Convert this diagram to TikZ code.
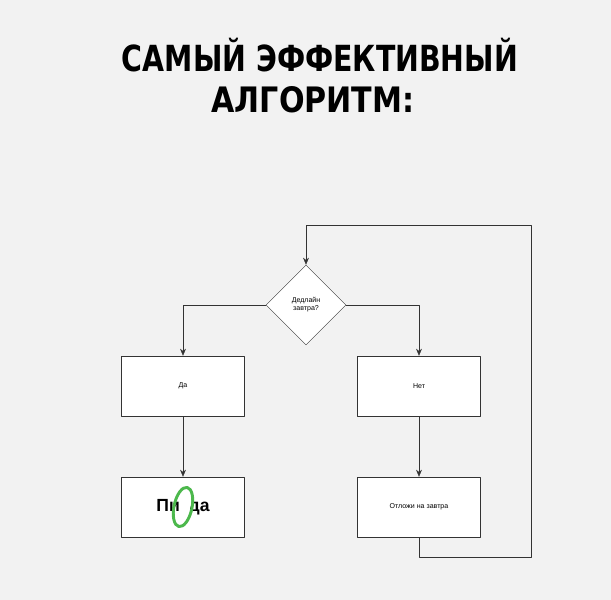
\documentclass[tikz,border=0pt]{standalone}
\usepackage{fontspec}
\setmainfont{Liberation Sans}
\newfontfamily\titlefont{DejaVu Sans}
\usetikzlibrary{shapes.geometric,arrows.meta}
\begin{document}
\begin{tikzpicture}[x=0.03cm,y=-0.03cm,line join=round,>={Stealth[length=6pt,width=5pt]},thin]
	\tikzset{box/.style={draw=black!80,fill=white,minimum width=3.69cm,minimum height=1.8cm,inner sep=0pt,font=\fontsize{6}{7}\selectfont},
		flow/.style={->,draw=black!80}}
	\fill[black!5] (0,0) rectangle (611,600);
	\useasboundingbox (0,0) rectangle (611,600);
	% title
	\node[anchor=south] (title1) at (320,76) {\resizebox{11.88cm}{1.0cm}{\titlefont\bfseries САМЫЙ ЭФФЕКТИВНЫЙ}};
	\node[anchor=south] (title2) at (313,117) {\resizebox{6.09cm}{0.78cm}{\titlefont\bfseries АЛГОРИТМ:}};
	% flowchart
	\node[diamond,draw=black!80,fill=white,minimum width=2.4cm,minimum height=2.4cm,inner sep=0pt,align=center,font=\fontsize{6}{7}\selectfont] (deadline) at (306,305) {Дедлайн\\завтра?};
	\node[box] (yes) at (183,386) {Да};
	\node[box] (no) at (419,386) {Нет};
	\node[box,font=\bfseries\fontsize{15}{16}\selectfont] (end) at (183,507) {Пизда};
	\node[box] (later) at (419,507) {Отложи на завтра};
	\coordinate (corner) at (531,557);
	% hidden letters and green O
	\fill[white] (179,496) rectangle (190,518);
	\draw[green!60!black!70,line width=2.5pt,rotate around={-12:(183,507)}] (183,507) ellipse (9 and 20);
	\draw[flow] (deadline.west) -| (yes.north);
	\draw[flow] (deadline.east) -| (no.north);
	\draw[flow] (yes) -- (end);
	\draw[flow] (no) -- (later);
	\draw[flow] (later.south) |- (corner) |- (306,225) -- (deadline.north);
\end{tikzpicture}
\end{document}
